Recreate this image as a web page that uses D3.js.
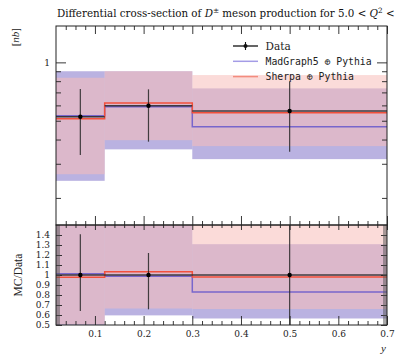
<!DOCTYPE html>
<html>
<head>
<meta charset="utf-8">
<script src="https://cdn.jsdelivr.net/npm/d3@7"></script>
<style>
  html, body { margin: 0; padding: 0; background: #fff; }
  svg { display: block; }
  .serif { font-family: "Liberation Serif", "DejaVu Serif", serif; }
  .wide { font-family: "DejaVu Serif", "Liberation Serif", serif; }
  .mono { font-family: "DejaVu Sans Mono", "Liberation Mono", monospace; }
</style>
</head>
<body>
<svg id="chart" width="402" height="356"></svg>
<script>
// Bin edges in y and bin centres of the measurement
const binEdges = [0.02, 0.12, 0.3, 0.7];
const binCentres = [0.07, 0.21, 0.5];

// Measured cross-section [nb] with lower / upper error-bar ends
const dataValues = [0.524, 0.597, 0.561];
const dataLow = [0.333, 0.390, 0.346];
const dataHigh = [0.728, 0.726, 0.800];

// Ratio-panel error bar ends for the data
const ratioLow = [0.640, 0.657, 0.45];
const ratioHigh = [1.407, 1.220, 1.55];

// MadGraph5 + Pythia prediction and its uncertainty band
const mgValues = [0.530, 0.590, 0.466];
const mgLow = [0.245, 0.356, 0.317];
const mgHigh = [0.900, 0.900, 0.734];

// Sherpa + Pythia prediction and its uncertainty band
const shValues = [0.512, 0.617, 0.550];
const shLow = [0.265, 0.397, 0.370];
const shHigh = [0.833, 0.900, 0.860];

// Axis ticks
const xMajorTicks = [0.1, 0.2, 0.3, 0.4, 0.5, 0.6, 0.7];
const xTickLabels = ["0.1", "0.2", "0.3", "0.4", "0.5", "0.6", "0.7"];
const mainMajorTicks = [1];
const mainMinorTicks = [0.2, 0.3, 0.4, 0.5, 0.6, 0.7, 0.8, 0.9];
const ratioMajorTicks = [0.5, 0.6, 0.7, 0.8, 0.9, 1.0, 1.1, 1.2, 1.3, 1.4];
const ratioTickLabels = ["0.5", "0.6", "0.7", "0.8", "0.9", "1", "1.1", "1.2", "1.3", "1.4"];

const svg = d3.select("#chart");
const L = 56, R = 387, T = 26, SPLIT = 225, B = 325;

const x = d3.scaleLinear().domain([0.02, 0.7]).range([L, R]);
const yMain = d3.scaleLog().domain([0.145, 1.54]).range([SPLIT, T]);
const yRatio = d3.scaleLinear().domain([0.5, 1.5]).range([B, SPLIT]);

const xMinor = d3.range(0.04, 0.7001, 0.02).map(v => +v.toFixed(2)).filter(v => !xMajorTicks.some(m => Math.abs(m - v) < 1e-6));
const ratioMinor = d3.range(0.5, 1.5001, 0.01).map(v => +v.toFixed(2));

const C = {
  mgBand: "rgb(117,101,195)", mgBandOpacity: 0.5,
  shBand: "rgb(247,190,186)", shBandOpacity: 0.55,
  mgLine: "#7866cc", shLine: "#f2503c", data: "#262626"
};

// clip paths for the two panels
const defs = svg.append("defs");
defs.append("clipPath").attr("id", "clipMain").append("rect")
  .attr("x", L).attr("y", T).attr("width", R - L).attr("height", SPLIT - T);
defs.append("clipPath").attr("id", "clipRatio").append("rect")
  .attr("x", L).attr("y", SPLIT).attr("width", R - L).attr("height", B - SPLIT);

function stepPoints(vals) {
  const pts = vals.map((v, i) => [binEdges[i], v]);
  pts.push([binEdges[binEdges.length - 1], vals[vals.length - 1]]);
  return pts;
}

function drawPanel(g, yS, f) {
  const idx = d3.range(binCentres.length);
  // MadGraph band then Sherpa band
  g.selectAll(".mgband").data(idx).join("rect")
    .attr("x", i => x(binEdges[i])).attr("width", i => x(binEdges[i + 1]) - x(binEdges[i]))
    .attr("y", i => yS(f(mgHigh[i], i))).attr("height", i => yS(f(mgLow[i], i)) - yS(f(mgHigh[i], i)))
    .attr("fill", C.mgBand).attr("fill-opacity", C.mgBandOpacity);
  g.selectAll(".shband").data(idx).join("rect")
    .attr("x", i => x(binEdges[i])).attr("width", i => x(binEdges[i + 1]) - x(binEdges[i]))
    .attr("y", i => yS(f(shHigh[i], i))).attr("height", i => yS(f(shLow[i], i)) - yS(f(shHigh[i], i)))
    .attr("fill", C.shBand).attr("fill-opacity", C.shBandOpacity);

  const line = d3.line().x(d => x(d[0])).y(d => yS(d[1])).curve(d3.curveStepAfter);
  g.append("path").attr("d", line(stepPoints(mgValues.map(f))))
    .attr("fill", "none").attr("stroke", C.mgLine).attr("stroke-width", 1.5);
  g.append("path").attr("d", line(stepPoints(shValues.map(f))))
    .attr("fill", "none").attr("stroke", C.shLine).attr("stroke-width", 1.5);
}

// ---- main panel
const gMain = svg.append("g").attr("clip-path", "url(#clipMain)");
drawPanel(gMain, yMain, v => v);
const idx = d3.range(binCentres.length);
gMain.selectAll(".dx").data(idx).join("line")
  .attr("x1", i => x(binEdges[i])).attr("x2", i => x(binEdges[i + 1]))
  .attr("y1", i => yMain(dataValues[i])).attr("y2", i => yMain(dataValues[i]))
  .attr("stroke", C.data).attr("stroke-width", 1.6).attr("stroke-opacity", 0.85);
gMain.selectAll(".dy").data(idx).join("line")
  .attr("x1", i => x(binCentres[i])).attr("x2", i => x(binCentres[i]))
  .attr("y1", i => yMain(dataLow[i])).attr("y2", i => yMain(dataHigh[i]))
  .attr("stroke", C.data).attr("stroke-width", 1.2).attr("stroke-opacity", 0.85);
gMain.selectAll(".dp").data(idx).join("circle")
  .attr("cx", i => x(binCentres[i])).attr("cy", i => yMain(dataValues[i])).attr("r", 2.2)
  .attr("fill", "#000");

// ---- ratio panel (MC / data)
const gRatio = svg.append("g").attr("clip-path", "url(#clipRatio)");
drawPanel(gRatio, yRatio, (v, i) => v / dataValues[i]);
gRatio.append("line").attr("x1", L).attr("x2", R).attr("y1", yRatio(1)).attr("y2", yRatio(1))
  .attr("stroke", C.data).attr("stroke-width", 1.6).attr("stroke-opacity", 0.85);
gRatio.selectAll(".ry").data(idx).join("line")
  .attr("x1", i => x(binCentres[i])).attr("x2", i => x(binCentres[i]))
  .attr("y1", i => yRatio(ratioLow[i])).attr("y2", i => yRatio(ratioHigh[i]))
  .attr("stroke", C.data).attr("stroke-width", 1.2).attr("stroke-opacity", 0.85);
gRatio.selectAll(".rp").data(idx).join("circle")
  .attr("cx", i => x(binCentres[i])).attr("cy", yRatio(1)).attr("r", 2.2).attr("fill", "#000");

// ---- axes
function ax(gen, tx, ty, vals, size, fmt, pad) {
  const a = gen.tickValues(vals).tickSizeInner(size).tickSizeOuter(0)
    .tickPadding(pad || 3).tickFormat(fmt || (() => ""));
  const g = svg.append("g").attr("transform", `translate(${tx},${ty})`).call(a);
  g.select(".domain").remove();
  g.selectAll(".tick line").attr("stroke", "#222").attr("stroke-width", 0.9);
  g.selectAll("text").attr("class", "wide").attr("font-size", 9).attr("fill", "#222");
  return g;
}
// x ticks: main top, main bottom, ratio top, ratio bottom
ax(d3.axisTop(x), 0, T, xMajorTicks, -8);
ax(d3.axisTop(x), 0, T, xMinor, -4);
ax(d3.axisBottom(x), 0, SPLIT, xMajorTicks, -9);
ax(d3.axisBottom(x), 0, SPLIT, xMinor, -4);
ax(d3.axisTop(x), 0, SPLIT, xMajorTicks, -5);
ax(d3.axisTop(x), 0, SPLIT, xMinor, -3);
ax(d3.axisBottom(x), 0, B, xMajorTicks, -9, (d, i) => xTickLabels[i], 6);
ax(d3.axisBottom(x), 0, B, xMinor, -4);

// main y ticks
ax(d3.axisLeft(yMain), L, 0, mainMajorTicks, -10, () => "1", 6);
ax(d3.axisLeft(yMain), L, 0, mainMinorTicks, -5);
ax(d3.axisRight(yMain), R, 0, mainMajorTicks, -10);
ax(d3.axisRight(yMain), R, 0, mainMinorTicks, -5);

// ratio y ticks
ax(d3.axisLeft(yRatio), L, 0, ratioMajorTicks, -6, (d, i) => ratioTickLabels[i], 6);
ax(d3.axisLeft(yRatio), L, 0, ratioMinor, -4).selectAll(".tick line").attr("stroke-width", 0.5).attr("stroke", "#555");
ax(d3.axisRight(yRatio), R, 0, ratioMajorTicks, -6);
ax(d3.axisRight(yRatio), R, 0, ratioMinor, -4).selectAll(".tick line").attr("stroke-width", 0.5).attr("stroke", "#555");

// frames
[[T, SPLIT], [SPLIT, B]].forEach(([a, b]) => {
  svg.append("rect").attr("x", L).attr("y", a).attr("width", R - L).attr("height", b - a)
    .attr("fill", "none").attr("stroke", "#222").attr("stroke-width", 1);
});

// ---- texts
const title = svg.append("text").attr("class", "wide").attr("x", 57).attr("y", 17)
  .attr("font-size", 10.3).attr("fill", "#111");
title.append("tspan").text("Differential cross-section of ");
title.append("tspan").attr("font-style", "italic").text("D");
title.append("tspan").attr("font-size", 7.3).attr("dy", -4).text("±");
title.append("tspan").attr("dy", 4).text(" meson production for 5.0 < ");
title.append("tspan").attr("font-style", "italic").text("Q");
title.append("tspan").attr("font-size", 7.3).attr("dy", -4).text("2");
title.append("tspan").attr("dy", 4).text(" <");

const yl = svg.append("text").attr("class", "serif").attr("font-size", 11).attr("fill", "#222")
  .attr("text-anchor", "end").attr("transform", "translate(19,28) rotate(-90)");
yl.append("tspan").text("[");
yl.append("tspan").attr("font-style", "italic").text("nb");
yl.append("tspan").text("]");

svg.append("text").attr("class", "serif").attr("font-size", 11.5).attr("fill", "#222")
  .attr("text-anchor", "middle").attr("transform", `translate(22,${yRatio(1)}) rotate(-90)`)
  .text("MC/Data");

svg.append("text").attr("class", "serif").attr("font-size", 11).attr("font-style", "italic")
  .attr("fill", "#222").attr("text-anchor", "end").attr("x", R - 1).attr("y", 352).text("y");

// ---- legend
const legendItems = [
  { label: "Data", color: "#111", cls: "wide", size: 10.5, marker: true },
  { label: "MadGraph5 \u2295 Pythia", color: "#a49ce6", cls: "mono", size: 9.8 },
  { label: "Sherpa \u2295 Pythia", color: "#f38c7e", cls: "mono", size: 9.8 }
];
const lg = svg.append("g");
legendItems.forEach((d, i) => {
  const yy = 46 + i * 15.3;
  lg.append("line").attr("x1", 233).attr("x2", 258).attr("y1", yy).attr("y2", yy)
    .attr("stroke", d.color).attr("stroke-width", d.marker ? 1.3 : 1.5);
  if (d.marker) {
    lg.append("line").attr("x1", 245.5).attr("x2", 245.5).attr("y1", yy - 4).attr("y2", yy + 4)
      .attr("stroke", d.color).attr("stroke-width", 1.1);
    lg.append("circle").attr("cx", 245.5).attr("cy", yy).attr("r", 2).attr("fill", d.color);
  }
  lg.append("text").attr("class", d.cls).attr("font-size", d.size).attr("fill", "#222")
    .attr("x", 265.5).attr("y", yy + 3.6).text(d.label);
});
</script>
</body>
</html>
